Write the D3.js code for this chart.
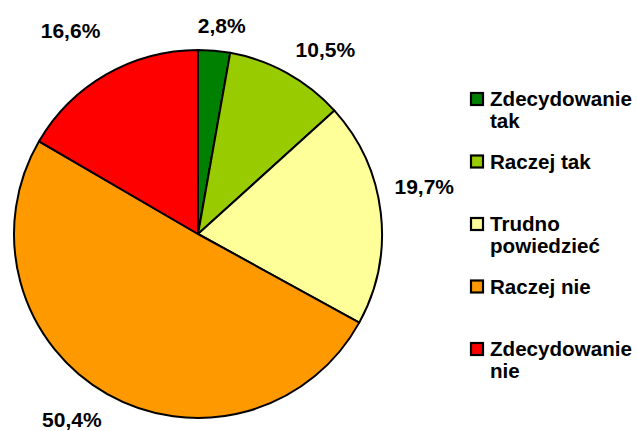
<!DOCTYPE html>
<html>
<head>
<meta charset="utf-8">
<script src="https://cdn.jsdelivr.net/npm/d3@7"></script>
<style>
  body { margin: 0; background: #fff; }
  text { font-family: "Liberation Sans", Arial, sans-serif; font-weight: bold; fill: #000; }
</style>
</head>
<body>
<svg id="chart" width="637" height="431"></svg>
<script>
(function() {
  // data
  const categories = ['Zdecydowanie tak', 'Raczej tak', 'Trudno powiedzieć', 'Raczej nie', 'Zdecydowanie nie']
  const values = [2.8, 10.5, 19.7, 50.4, 16.6]
  const legendLines = [['Zdecydowanie', 'tak'], ['Raczej tak'], ['Trudno', 'powiedzieć'], ['Raczej nie'], ['Zdecydowanie', 'nie']]
  const colors = ['#008000', '#99cc00', '#ffff99', '#ff9900', '#ff0000']

  const
    cx = 198,
    cy = 234,
    radius = 184,
    labelGap = 16

  // small nudges so labels sit where the original put them
  const labelNudge = [[4, -1], [16, -2], [-2, -23], [-13, 5], [-13, -23]]

  const svg = d3.select('#chart')

  const pie = d3.pie().sort(null).value(function(d) { return d })
  const arcs = pie(values)

  const arc = d3.arc().innerRadius(0).outerRadius(radius)

  const g = svg.append('g').attr('transform', 'translate(' + cx + ',' + cy + ')')

  g.selectAll('path')
    .data(arcs)
    .enter()
    .append('path')
    .attr('d', arc)
    .attr('fill', function(d, i) { return colors[i] })
    .attr('stroke', '#000')
    .attr('stroke-width', 2)
    .attr('stroke-linejoin', 'round')

  const fmt = function(v) { return d3.format('.1f')(v).replace('.', ',') + '%' }

  g.selectAll('text.lbl')
    .data(arcs)
    .enter()
    .append('text')
    .attr('class', 'lbl')
    .attr('font-size', 21)
    .attr('text-anchor', 'middle')
    .attr('dy', '0.35em')
    .text(function(d) { return fmt(d.data) })
    .attr('transform', function(d, i) {
      const a = (d.startAngle + d.endAngle) / 2
      const w = this.getComputedTextLength(), h = 16
      const r = radius + labelGap
      const x = r * Math.sin(a) + (w / 2) * Math.sin(a) + labelNudge[i][0]
      const y = -r * Math.cos(a) - (h / 2) * Math.cos(a) + labelNudge[i][1]
      return 'translate(' + x + ',' + y + ')'
    })

  // legend
  const legendY = d3.scaleLinear().domain([0, categories.length - 1]).range([106, 356])

  const items = svg.selectAll('g.legend')
    .data(categories)
    .enter()
    .append('g')
    .attr('class', 'legend')
    .attr('transform', function(d, i) { return 'translate(470,' + legendY(i) + ')' })

  items.append('rect')
    .attr('x', 1)
    .attr('y', -13)
    .attr('width', 12)
    .attr('height', 12)
    .attr('fill', function(d, i) { return colors[i] })
    .attr('stroke', '#000')
    .attr('stroke-width', 2.2)

  items.append('text')
    .attr('font-size', 20.6)
    .selectAll('tspan')
    .data(function(d, i) { return legendLines[i] })
    .enter()
    .append('tspan')
    .attr('x', 20)
    .attr('y', function(d, j) { return j * 22 })
    .text(function(d) { return d })
})();
</script>
</body>
</html>
